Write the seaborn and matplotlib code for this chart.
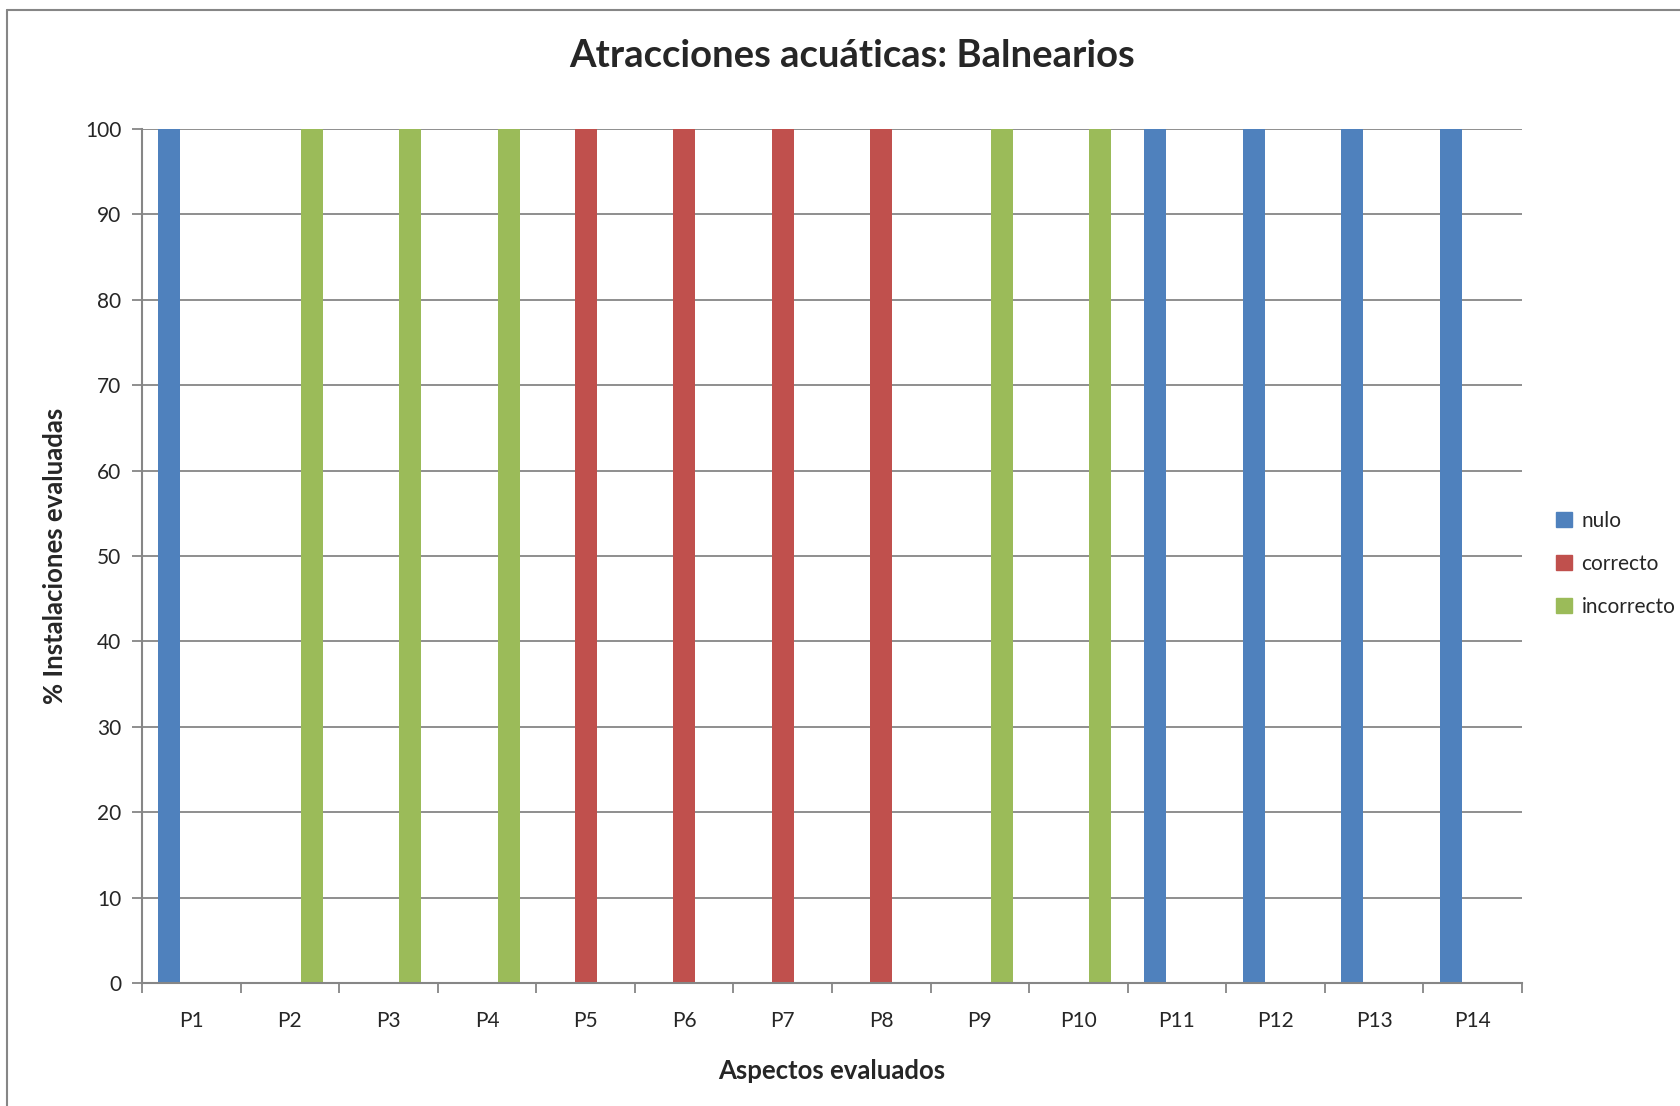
import matplotlib
matplotlib.use("Agg")
import matplotlib.pyplot as plt
from matplotlib.lines import Line2D
import seaborn as sns
import pandas as pd
import numpy as np

sns.set_theme(style="white")
plt.rcParams['font.family'] = ['Lato', 'DejaVu Sans']

# data
aspectos = ['P1', 'P2', 'P3', 'P4', 'P5', 'P6', 'P7', 'P8', 'P9', 'P10', 'P11', 'P12', 'P13', 'P14']
series = ['nulo', 'correcto', 'incorrecto']
nulo = [100, 0, 0, 0, 0, 0, 0, 0, 0, 0, 100, 100, 100, 100]
correcto = [0, 0, 0, 0, 100, 100, 100, 100, 0, 0, 0, 0, 0, 0]
incorrecto = [0, 100, 100, 100, 0, 0, 0, 0, 100, 100, 0, 0, 0, 0]
colors = {'nulo': '#4F81BD', 'correcto': '#C0504D', 'incorrecto': '#9BBB59'}

df = pd.DataFrame({
    'aspecto': aspectos * 3,
    'serie': ['nulo'] * 14 + ['correcto'] * 14 + ['incorrecto'] * 14,
    'valor': nulo + correcto + incorrecto,
})

fig = plt.figure(figsize=(16.81, 11.06), dpi=100)
ax = fig.add_axes([142 / 1681, 1 - 983 / 1106, (1522 - 142) / 1681, (983 - 129) / 1106])

grey = '#868686'
ax.set_axisbelow(True)
ax.yaxis.grid(True, color=grey, linewidth=1.3)

sns.barplot(data=df, x='aspecto', y='valor', hue='serie', order=aspectos, hue_order=series,
            palette=colors, saturation=1, width=0.667, dodge=True, ax=ax, legend=False,
            edgecolor='none', linewidth=0)

ax.set_xlim(-0.5, len(aspectos) - 0.5)
ax.set_ylim(0, 100)
ax.set_yticks(np.arange(0, 101, 10))

for side in ['top', 'right']:
    ax.spines[side].set_visible(False)
for side in ['left', 'bottom']:
    ax.spines[side].set_color(grey)
    ax.spines[side].set_linewidth(1.5)

ax.tick_params(axis='y', which='major', direction='out', length=7, width=1.3, color=grey,
               labelsize=15, pad=8, left=True)
ax.set_xticks(np.arange(-0.5, len(aspectos), 1), minor=True)
ax.tick_params(axis='x', which='minor', direction='out', length=7, width=1.3, color=grey, bottom=True)
ax.tick_params(axis='x', which='major', length=0, labelsize=15, pad=20)

ax.set_xlabel('Aspectos evaluados', fontsize=18.5, fontweight='bold', labelpad=20)
ax.set_ylabel('% Instalaciones evaluadas', fontsize=18.5, fontweight='bold', labelpad=13)
fig.text(852 / 1681, 1 - 56 / 1106, 'Atracciones acuáticas: Balnearios', fontsize=27.5,
         fontweight='bold', ha='center', va='center')

handles = [plt.Rectangle((0, 0), 1, 1, color=colors[s]) for s in series]
ax.legend(handles, series, loc='center left', bbox_to_anchor=(1.011, 0.491), frameon=False,
          fontsize=15, handlelength=0.78, handleheight=0.78, handletextpad=0.45, labelspacing=1.1)

# outer chart border (only top/left visible in frame)
fig.add_artist(Line2D([7 / 1681, 1.01], [1 - 10 / 1106, 1 - 10 / 1106], color=grey, linewidth=1.5,
                      transform=fig.transFigure))
fig.add_artist(Line2D([7 / 1681, 7 / 1681], [1 - 10 / 1106, -0.01], color=grey, linewidth=1.5,
                      transform=fig.transFigure))

fig.savefig('out.png', dpi=100)
